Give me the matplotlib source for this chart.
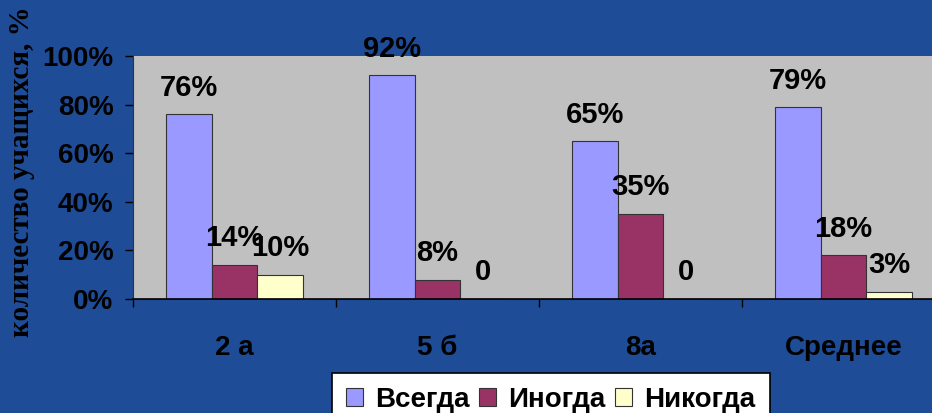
import matplotlib
matplotlib.use("Agg")
import matplotlib.pyplot as plt
import numpy as np

categories = ["2 а", "5 б", "8а", "Среднее"]
series_names = ["Всегда", "Иногда", "Никогда"]
vsegda = [76, 92, 65, 79]
inogda = [14, 8, 35, 18]
nikogda = [10, 0, 0, 3]
series = [vsegda, inogda, nikogda]
colors = ["#9999FF", "#993366", "#FFFFCC"]
yticks = [0, 20, 40, 60, 80, 100]
ylabel = "количество учащихся, %"

plt.rcParams['font.family'] = ['Liberation Sans', 'DejaVu Sans']

fig = plt.figure(figsize=(9.32, 4.13), dpi=100)
fig.patch.set_facecolor("#1E4C96")
ax = fig.add_axes([133/932, 1-299/413, 812/932, 243/413])
ax.set_facecolor("#C0C0C0")

x = np.arange(len(categories))
w = 0.224
for i, (vals, col, name) in enumerate(zip(series, colors, series_names)):
    pos = x + (i - 1) * w
    ax.bar(pos, vals, width=w, color=col, edgecolor="#333333", linewidth=0.8, label=name)
    for p, v in zip(pos, vals):
        lab = f"{v}%" if v != 0 else "0"
        ax.annotate(lab, (p, v), xytext=(0, 9), textcoords="offset points",
                    ha="center", va="bottom", fontsize=21, fontweight="bold", color="black")

ax.set_xlim(-0.5, len(categories) - 0.5)
ax.set_ylim(0, 100)
ax.set_yticks(yticks)
ax.set_yticklabels([f"{t}%" for t in yticks], fontsize=20, fontweight="bold")
ax.tick_params(axis="y", direction="out", length=6, width=1, color="black", pad=8)
ax.set_xticks(x)
ax.set_xticklabels(categories, fontsize=20, fontweight="bold")
ax.tick_params(axis="x", which="major", length=0, pad=26)
ax.set_xticks(np.arange(-0.5, len(categories)), minor=True)
ax.tick_params(axis="x", which="minor", direction="out", length=6, width=1, color="black")
for s in ["top", "right"]:
    ax.spines[s].set_visible(False)
ax.spines["left"].set_color("#333333")
ax.spines["bottom"].set_color("black")
ax.spines["bottom"].set_linewidth(1.2)

fig.text(22/932, 1-172/413, ylabel, rotation=90, ha="center", va="center",
         fontsize=21, fontweight="bold", family=["Liberation Serif", "DejaVu Serif"], color="black")

leg = fig.legend(loc="upper left", bbox_to_anchor=(332/932, 1-373/413), ncol=3,
                 prop={"size": 20, "weight": "bold"}, frameon=True, fancybox=False,
                 edgecolor="black", facecolor="white", framealpha=1,
                 handlelength=0.6, handleheight=0.6, handletextpad=0.45,
                 columnspacing=0.35, borderpad=0.5, borderaxespad=0)
leg.get_frame().set_linewidth(1.2)

fig.savefig("out.png", dpi=100, facecolor=fig.get_facecolor())
